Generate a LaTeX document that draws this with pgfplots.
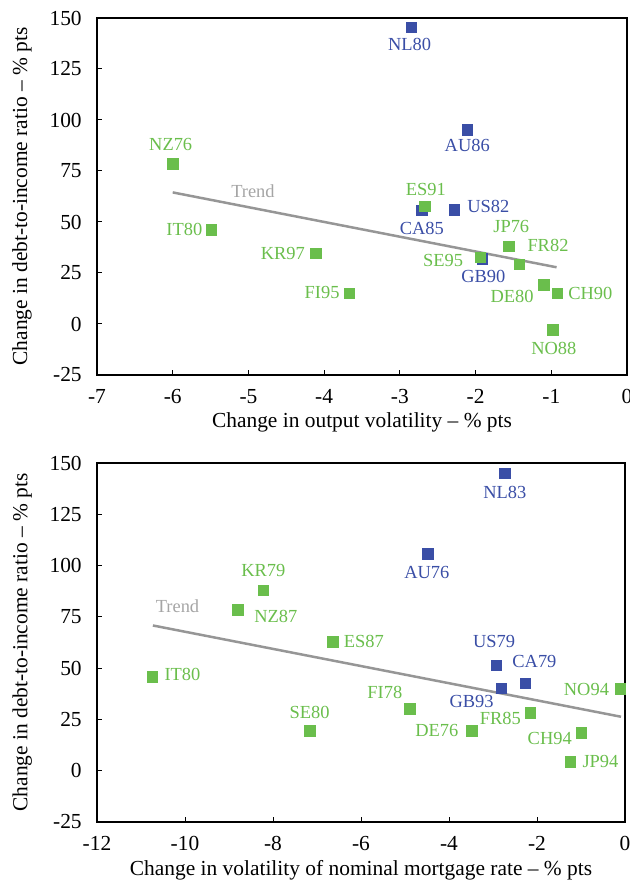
\documentclass[border=0pt]{standalone}
\usepackage{fontspec}
\setmainfont{Liberation Serif}
\usepackage{pgfplots}
\pgfplotsset{compat=1.18}

\definecolor{ptblue}{RGB}{58,78,166}
\definecolor{ptgreen}{RGB}{106,190,76}
\definecolor{trendgray}{RGB}{150,150,150}
\definecolor{trendtext}{RGB}{165,165,165}

\newcommand{\axisfont}{\fontsize{21.5}{25}\selectfont}
\newcommand{\pointfont}{\fontsize{18.5}{22}\selectfont}

\pgfplotsset{
  debtaxis/.style={
    scale only axis, clip=false,
    axis line style={line width=1.3bp, black},
    tick style={line width=1bp, black},
    major tick length=5bp,
    xtick pos=bottom, ytick pos=left, tick align=inside,
    ymin=-25, ymax=150, ytick={-25,0,25,50,75,100,125,150},
    /pgf/number format/assume math mode=true,
    tick label style={font=\axisfont},
    yticklabel style={xshift=-11.8bp},
    xticklabel style={yshift=-10.5bp},
    label style={font=\axisfont},
    ylabel style={at={(axis description cs:-0.1415,0.5)}, anchor=center},
    ylabel={Change in debt-to-income ratio -- \% pts},
  },
  labelled/.style={
    only marks, mark=square*, mark size=5.2bp,
    color=#1, mark options={fill=#1, draw=#1},
    nodes near coords={\pgfplotspointmeta}, point meta=explicit symbolic,
    visualization depends on={\thisrow{dx}\as\dx},
    visualization depends on={\thisrow{dy}\as\dy},
    every node near coord/.append style={anchor=center, inner sep=0pt,
      xshift=\dx*1bp, yshift=\dy*1bp, text=#1, font=\pointfont},
  },
  trend/.style={no marks, line width=2.5bp, color=trendgray},
}

\begin{document}
\begin{tikzpicture}
\path[use as bounding box] (0,0) rectangle (630bp,884bp);

% Output volatility
\begin{axis}[debtaxis,
  at={(97bp,509bp)}, anchor=south west, width=530bp, height=357bp,
  xmin=-7, xmax=0, xtick={-7,-6,-5,-4,-3,-2,-1,0},
  xlabel={Change in output volatility -- \% pts},
  xlabel style={at={(axis description cs:0.5,-0.1317)}, anchor=center},
]
\addplot[trend] coordinates {(-6.0,64.5) (-0.93,27.8)};
\node[text=trendtext, font=\pointfont] at (axis cs:-4.94,65) {Trend};
\addplot[labelled=ptblue] table[meta=label] {
x y dx dy label
-2.85 145.6 -1.6 -17 NL80
-2.11 95.2 0 -16 AU86
-2.28 56.0 34 3 US82
-2.71 55.7 0 -18 CA85
-1.91 32.0 1 -18 GB90
};
\addplot[labelled=ptgreen] table[meta=label] {
x y dx dy label
-6.00 78.5 -2 19 NZ76
-2.67 57.8 1 17 ES91
-5.49 46.2 -27 0 IT80
-4.11 34.8 -33 0 KR97
-3.67 15.2 -27 0 FI95
-1.56 38.1 2.4 20 JP76
-1.42 29.2 28.5 18.5 FR82
-1.94 32.8 -37 -3 SE95
-1.10 19.3 -31.6 -11.6 DE80
-0.92 15.2 33 0 CH90
-0.98 -2.8 1 -18.5 NO88
};
\end{axis}

% Volatility of nominal mortgage rate
\begin{axis}[debtaxis,
  at={(97bp,62bp)}, anchor=south west, width=528bp, height=359bp,
  xmin=-12, xmax=0, xtick={-12,-10,-8,-6,-4,-2,0},
  xlabel={Change in volatility of nominal mortgage rate -- \% pts},
  xlabel style={at={(axis description cs:0.5,-0.134)}, anchor=center},
]
\addplot[trend] coordinates {(-10.73,70.8) (-0.09,26.3)};
\node[text=trendtext, font=\pointfont] at (axis cs:-10.17,80.2) {Trend};
\addplot[labelled=ptblue] table[meta=label] {
x y dx dy label
-2.73 144.9 0 -19 NL83
-4.48 105.7 -1 -19 AU76
-2.93 51.3 -2 24 US79
-2.27 42.8 9.3 21 CA79
-2.82 40.2 -29.3 -13.4 GB93
};
\addplot[labelled=ptgreen] table[meta=label] {
x y dx dy label
-8.22 87.9 0 20 KR79
-8.80 78.4 38 -7 NZ87
-6.64 62.9 31 0 ES87
-10.74 45.9 30 2 IT80
-7.17 19.6 0 18 SE80
-4.89 30.2 -25 16 FI78
-3.48 19.6 -35 0 DE76
-2.15 28.2 -30 -6 FR85
-0.11 39.9 -33.7 -1 NO94
-0.99 18.5 -31.7 -5.7 CH94
-1.24 4.3 30 0 JP94
};
\end{axis}
\end{tikzpicture}
\end{document}
